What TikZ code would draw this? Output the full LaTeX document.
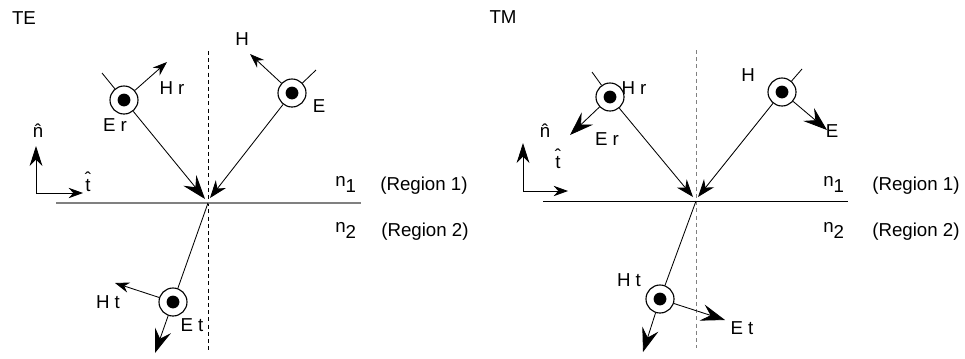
\documentclass[tikz,border=0pt]{standalone}
\usepackage{fontspec}
\setmainfont{Liberation Sans}
\usetikzlibrary{arrows.meta}
\newcommand\hatted[2][0pt]{\ooalign{#2\cr\hidewidth\raisebox{#1}{ˆ}\hidewidth\cr}}
\begin{document}
\begin{tikzpicture}[
    x=0.025cm, y=-0.025cm,
    font=\fontsize{13.3}{15}\selectfont,
    field_style/.style={circle, draw, line width=0.8pt, fill=white, minimum size=0.7cm, inner sep=0pt,
        path picture={\fill[black] (path picture bounding box.center) circle (0.16cm);}},
    ray_style/.style={line width=0.6pt},
    small_tip/.style={-{Stealth[length=3.6mm, width=2.6mm]}},
    mid_tip/.style={-{Stealth[length=4.4mm, width=3.2mm, inset=1.4mm]}},
    big_tip/.style={-{Stealth[length=6mm, width=4.2mm, inset=2.2mm]}},
    axis_tip/.style={-{Stealth[length=5mm, width=3.2mm]}},
    dash_style/.style={line width=0.6pt, dash pattern=on 1mm off 0.8mm},
    label_style/.style={inner sep=0pt}
]
\useasboundingbox (0,0) rectangle (965,358);
% TE polarisation
\begin{scope}
    \node[label_style] (te) at (24,18) {TE};
    % normal and interface
    \coordinate (te_top) at (208,51);
    \coordinate (te_bot) at (208,350);
    \draw[dash_style] (te_top) -- (te_bot);
    \coordinate (te_left) at (56,203);
    \coordinate (te_right) at (361,203);
    \draw[gray, line width=0.9pt] (te_left) -- (te_right);
    \coordinate (te_o) at (208,203);
    % axes
    \coordinate (te_ax) at (36,193);
    \coordinate (te_ax_n) at (36,146);
    \coordinate (te_ax_t) at (83,193);
    \draw[ray_style, axis_tip] (te_ax) -- (te_ax_n);
    \draw[ray_style, small_tip] (te_ax) -- (te_ax_t);
    \node[label_style] (te_n) at (38,132) {\hatted{n}};
    \node[label_style] (te_t) at (88,185) {\hatted[0.32em]{t}};
    % incident wave
    \node[field_style] (te_e) at (292,93) {};
    \coordinate (te_e_tick) at (316,70);
    \coordinate (te_h_tip) at (250,54);
    \coordinate (te_inc_tip) at (210,198);
    \draw[ray_style] (te_e) -- (te_e_tick);
    \draw[ray_style, small_tip] (te_e) -- (te_h_tip);
    \draw[ray_style, mid_tip] (te_e) -- (te_inc_tip);
    \node[label_style] (te_h_lbl) at (242,39) {H};
    \node[label_style] (te_e_lbl) at (319,106) {E};
    % reflected wave
    \node[field_style] (te_er) at (124,100) {};
    \coordinate (te_er_tick) at (102,73);
    \coordinate (te_hr_tip) at (167,62);
    \coordinate (te_ref_tip) at (205,199);
    \draw[ray_style] (te_er) -- (te_er_tick);
    \draw[ray_style, small_tip] (te_er) -- (te_hr_tip);
    \draw[ray_style, big_tip] (te_er) -- (te_ref_tip);
    \node[label_style] (te_hr_lbl) at (172,88) {H r};
    \node[label_style] (te_er_lbl) at (115,125) {E r};
    % transmitted wave
    \node[field_style] (te_et) at (173,302) {};
    \coordinate (te_ht_tip) at (115,283);
    \coordinate (te_tr_tip) at (155,353);
    \draw[ray_style] (te_o) -- (te_et);
    \draw[ray_style, small_tip] (te_et) -- (te_ht_tip);
    \draw[ray_style, big_tip] (te_et) -- (te_tr_tip);
    \node[label_style] (te_ht_lbl) at (108,302) {H t};
    \node[label_style] (te_et_lbl) at (192,325) {E t};
    % media
    \node[label_style, anchor=base west] (te_n1) at (335,190) {\raisebox{0.18em}{n}\raisebox{-0.12em}{1}};
    \node[label_style, anchor=base west] (te_r1) at (380,190) {(Region 1)};
    \node[label_style, anchor=base west] (te_n2) at (335,236) {\raisebox{0.2em}{n}\raisebox{-0.12em}{2}};
    \node[label_style, anchor=base west] (te_r2) at (381,236) {(Region 2)};
\end{scope}
% TM polarisation
\begin{scope}
    \node[label_style] (tm) at (503,17) {TM};
    % normal and interface
    \coordinate (tm_top) at (696,50);
    \coordinate (tm_bot) at (696,348);
    \draw[dash_style, gray] (tm_top) -- (tm_bot);
    \coordinate (tm_left) at (543,201);
    \coordinate (tm_right) at (848,201);
    \draw[ray_style] (tm_left) -- (tm_right);
    \coordinate (tm_o) at (696,201);
    % axes
    \coordinate (tm_ax) at (523,191);
    \coordinate (tm_ax_n) at (523,143);
    \coordinate (tm_ax_t) at (568,191);
    \draw[ray_style, axis_tip] (tm_ax) -- (tm_ax_n);
    \draw[ray_style, small_tip] (tm_ax) -- (tm_ax_t);
    \node[label_style] (tm_n) at (545,132) {\hatted{n}};
    \node[label_style] (tm_t) at (558,162) {\hatted[0.32em]{t}};
    % incident wave
    \node[field_style] (tm_h) at (782,92) {};
    \coordinate (tm_h_tick) at (802,69);
    \coordinate (tm_e_tip) at (827,130);
    \coordinate (tm_inc_tip) at (698,197);
    \draw[ray_style] (tm_h) -- (tm_h_tick);
    \draw[ray_style, big_tip] (tm_h) -- (tm_e_tip);
    \draw[ray_style, mid_tip] (tm_h) -- (tm_inc_tip);
    \node[label_style] (tm_h_lbl) at (748,75) {H};
    \node[label_style] (tm_e_lbl) at (832,131) {E};
    % reflected wave
    \node[field_style] (tm_hr) at (610,97) {};
    \coordinate (tm_hr_tick) at (592,72);
    \coordinate (tm_er_tip) at (570,135);
    \coordinate (tm_ref_tip) at (693,197);
    \draw[ray_style] (tm_hr) -- (tm_hr_tick);
    \draw[ray_style, big_tip] (tm_hr) -- (tm_er_tip);
    \draw[ray_style, mid_tip] (tm_hr) -- (tm_ref_tip);
    \node[label_style] (tm_hr_lbl) at (634,88) {H r};
    \node[label_style] (tm_er_lbl) at (607,139) {E r};
    % transmitted wave
    \node[field_style] (tm_ht) at (660,299) {};
    \coordinate (tm_tr_tip) at (643,352);
    \coordinate (tm_et_tip) at (725,320);
    \draw[ray_style] (tm_o) -- (tm_ht);
    \draw[ray_style, big_tip] (tm_ht) -- (tm_tr_tip);
    \draw[ray_style, big_tip] (tm_ht) -- (tm_et_tip);
    \node[label_style] (tm_ht_lbl) at (629,280) {H t};
    \node[label_style] (tm_et_lbl) at (742,328) {E t};
    % media
    \node[label_style, anchor=base west] (tm_n1) at (823,190) {\raisebox{0.18em}{n}\raisebox{-0.12em}{1}};
    \node[label_style, anchor=base west] (tm_r1) at (872,190) {(Region 1)};
    \node[label_style, anchor=base west] (tm_n2) at (823,236) {\raisebox{0.2em}{n}\raisebox{-0.12em}{2}};
    \node[label_style, anchor=base west] (tm_r2) at (872,236) {(Region 2)};
\end{scope}
\end{tikzpicture}
\end{document}
